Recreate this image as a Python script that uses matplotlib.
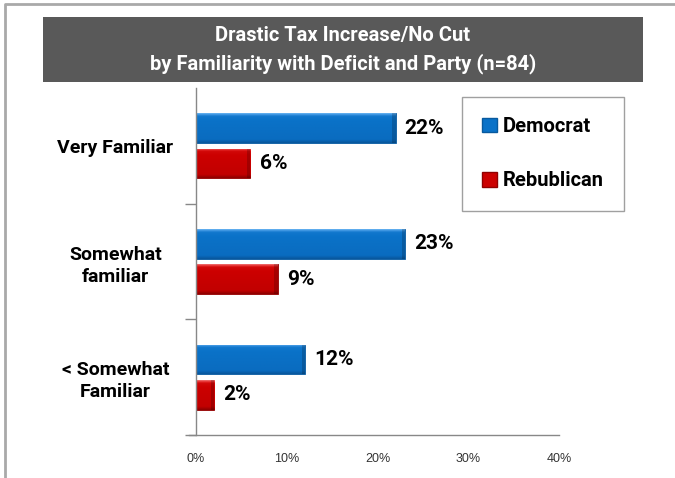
import numpy as np
import matplotlib
matplotlib.use("Agg")
import matplotlib.pyplot as plt
from matplotlib.patches import Rectangle
from matplotlib.lines import Line2D
from matplotlib.colors import LinearSegmentedColormap

# Data
categories = ["Very Familiar", "Somewhat\nfamiliar", "< Somewhat\nFamiliar"]
democrat = [22, 23, 12]
republican = [6, 9, 2]
series_names = ["Democrat", "Rebublican"]
x_ticks = [0, 10, 20, 30, 40]
x_tick_labels = ["0%", "10%", "20%", "30%", "40%"]
title_lines = ["Drastic Tax Increase/No Cut", "by Familiarity with Deficit and Party (n=84)"]

BOLD = "Roboto"

W, H = 675, 478
fig = plt.figure(figsize=(W / 100, H / 100), dpi=100)
fig.patch.set_facecolor("white")

# outer frame (top and left edges)
fig.add_artist(Line2D([5 / W, 5 / W, 1], [0, 1 - 4 / H, 1 - 4 / H],
                      transform=fig.transFigure, color="#a9a9a9", lw=2))

# title banner
fig.add_artist(Rectangle((43 / W, 1 - 82 / H), 600 / W, 65 / H,
                         transform=fig.transFigure, facecolor="#595959",
                         edgecolor="none"))
fig.text(343 / W, 1 - 36 / H, title_lines[0], ha="center", va="center",
         color="white", fontsize=14.5, fontweight="bold", family=BOLD)
fig.text(343 / W, 1 - 64 / H, title_lines[1], ha="center", va="center",
         color="white", fontsize=14.5, fontweight="bold", family=BOLD)

ax = fig.add_axes([196 / W, 1 - 435 / H, 363 / W, 347 / H])
y = np.arange(len(categories))
off = 0.152
h = 0.256

blue_cmap = LinearSegmentedColormap.from_list(
    "b", ["#6ab4f2", "#2a88da", "#0a72c8", "#0a6cc0", "#08569c"])
red_cmap = LinearSegmentedColormap.from_list(
    "r", ["#f07070", "#e02020", "#cc0000", "#c20000", "#8e0000"])

bars_d = ax.barh(y - off, democrat, height=h, color="#0a72c8",
                 edgecolor="#08599e", linewidth=0.6, zorder=2)
bars_r = ax.barh(y + off, republican, height=h, color="#cc0000",
                 edgecolor="#900000", linewidth=0.6, zorder=2)

# vertical shading inside each bar
grad = np.concatenate([np.linspace(0, 0.45, 8), np.linspace(0.45, 0.75, 48),
                       np.linspace(0.75, 1, 8)]).reshape(-1, 1)
for bars, cmap in ((bars_d, blue_cmap), (bars_r, red_cmap)):
    for b in bars:
        x0, y0 = b.get_x(), b.get_y()
        bw, bh = b.get_width(), b.get_height()
        im = ax.imshow(grad, cmap=cmap, aspect="auto", origin="upper",
                       extent=(x0, x0 + bw, y0 + bh, y0), zorder=2.5,
                       interpolation="bilinear")
        im.set_clip_path(b)
        # darker bevel at the bar end
        ax.add_patch(Rectangle((x0 + bw - 0.35, y0), 0.35, bh,
                               facecolor="black", alpha=0.18,
                               edgecolor="none", zorder=2.6))

for bars, vals in ((bars_d, democrat), (bars_r, republican)):
    for b, v in zip(bars, vals):
        ax.text(v + 1.0, b.get_y() + b.get_height() / 2, f"{v}%",
                va="center", ha="left", fontsize=15, fontweight="bold",
                family=BOLD, color="black")

ax.set_xlim(0, 40)
ax.set_ylim(2.5, -0.5)
ax.set_xticks(x_ticks)
ax.set_xticklabels(x_tick_labels, family="Liberation Sans", fontsize=9,
                   color="#333333")
ax.tick_params(axis="x", length=0, pad=13)
ax.set_yticks([0.5, 1.5, 2.5], minor=False)
ax.set_yticklabels([])
ax.tick_params(axis="y", length=8, color="#888888", width=1)
ax.set_yticks(y, minor=True)
ax.set_yticklabels(categories, minor=True, fontsize=14, fontweight="bold",
                   family=BOLD, ha="center", multialignment="center",
                   linespacing=1.3)
ax.tick_params(axis="y", which="minor", length=0, pad=58)
for s in ("top", "right"):
    ax.spines[s].set_visible(False)
for s in ("left", "bottom"):
    ax.spines[s].set_color("#888888")
    ax.spines[s].set_linewidth(1)
ax.spines["bottom"].set_bounds(-0.8, 40)
ax.spines["bottom"].set_clip_on(False)

handles = [Rectangle((0, 0), 1, 1, facecolor="#0a72c8", edgecolor="#08599e"),
           Rectangle((0, 0), 1, 1, facecolor="#cc0000", edgecolor="#900000")]
leg = fig.legend(handles, series_names, loc="upper left",
                 bbox_to_anchor=(462 / W, 1 - 97 / H),
                 prop={"family": BOLD, "weight": "bold", "size": 14.5},
                 frameon=True, fancybox=False, edgecolor="#888888",
                 borderpad=1.0, labelspacing=1.75, handlelength=0.72,
                 handleheight=0.72, handletextpad=0.3, borderaxespad=0)
leg.get_frame().set_linewidth(1)

fig.savefig("out.png", dpi=100, facecolor="white")
